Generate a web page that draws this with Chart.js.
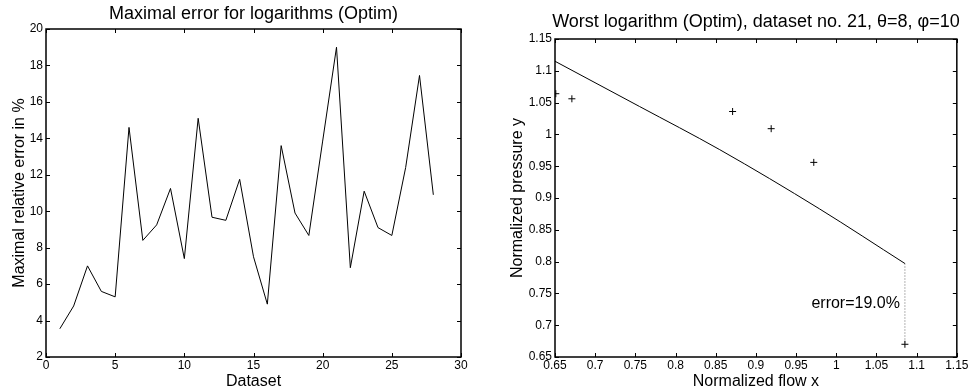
<!DOCTYPE html>
<html>
<head>
<meta charset="utf-8">
<script src="https://cdn.jsdelivr.net/npm/chart.js@4.4.1/dist/chart.umd.min.js"></script>
<style>
  body { margin: 0; background: #fff; }
  #left, #right { position: absolute; top: 0; width: 485px; height: 392px; }
  #left { left: 0; }
  #right { left: 485px; }
</style>
</head>
<body>
<canvas id="left" width="485" height="392"></canvas>
<canvas id="right" width="485" height="392"></canvas>
<script>
// max relative error per dataset
const datasetNo = [1, 2, 3, 4, 5, 6, 7, 8, 9, 10, 11, 12, 13, 14, 15, 16, 17, 18, 19, 20, 21, 22, 23, 24, 25, 26, 27, 28]
const maxError = [3.55, 4.8, 7.0, 5.6, 5.3, 14.6, 8.4, 9.25, 11.25, 7.4, 15.1, 9.67, 9.5, 11.75, 7.5, 4.9,
                  13.6, 9.9, 8.67, 13.85, 19.0, 6.9, 11.1, 9.1, 8.67, 12.4, 17.45, 10.9]
const datasetTicks = [0, 5, 10, 15, 20, 25, 30]
const errorTicks = [2, 4, 6, 8, 10, 12, 14, 16, 18, 20]

// worst case: measured points and fitted logarithm
const flowMeasured = [0.651, 0.671, 0.871, 0.919, 0.972, 1.0854]
const pressureMeasured = [1.064, 1.056, 1.036, 1.009, 0.956, 0.670]
const flowFit = [0.65, 0.755, 0.855, 0.979, 1.0854]
const pressureFit = [1.115, 1.044, 0.976, 0.883, 0.797]
const normTicks = [0.65, 0.7, 0.75, 0.8, 0.85, 0.9, 0.95, 1, 1.05, 1.1, 1.15]

const FONT = 'Liberation Sans, Arial, Helvetica, sans-serif'
Chart.defaults.font.family = FONT
Chart.defaults.color = '#000'

// matlab style box with ticks pointing inwards on all four sides
const boxAxes = {
  id: 'boxAxes',
  afterDraw(chart) {
    const {ctx, chartArea: a, scales: {x, y}} = chart
    ctx.save()
    ctx.strokeStyle = '#000'
    ctx.lineWidth = 1
    ctx.beginPath()
    x.ticks.forEach(t => {
      let px = Math.round(x.getPixelForValue(t.value)) + 0.5
      ctx.moveTo(px, a.bottom); ctx.lineTo(px, a.bottom - 4)
      ctx.moveTo(px, a.top); ctx.lineTo(px, a.top + 4)
    })
    y.ticks.forEach(t => {
      let py = Math.round(y.getPixelForValue(t.value)) + 0.5
      ctx.moveTo(a.left, py); ctx.lineTo(a.left + 4, py)
      ctx.moveTo(a.right, py); ctx.lineTo(a.right - 4, py)
    })
    ctx.stroke()
    ctx.lineWidth = 1.5
    ctx.strokeRect(a.left, a.top, a.right - a.left, a.bottom - a.top)
    ctx.restore()
  }
}

// title centred over the plot box, not the whole canvas
const plotTitle = {
  id: 'plotTitle',
  afterDraw(chart, args, opts) {
    const {ctx, chartArea: a} = chart
    ctx.save()
    ctx.font = '18px ' + FONT
    ctx.fillStyle = '#000'
    ctx.textAlign = 'center'
    ctx.textBaseline = 'alphabetic'
    ctx.fillText(opts.text, (a.left + a.right) / 2, opts.baseline)
    ctx.restore()
  }
}

function axis(min, max, ticks, title, size, pad) {
  return {
    type: 'linear', min: min, max: max,
    grid: {display: false, drawTicks: false},
    border: {display: false},
    afterBuildTicks: s => { s.ticks = ticks.map(v => ({value: v})) },
    ticks: {
      autoSkip: false, maxRotation: 0, padding: 1.5,
      font: {size: 12},
      callback: v => String(+v.toFixed(2))
    },
    title: {display: true, text: title, font: {size: 16}, padding: pad},
    afterFit: s => { if (s.isHorizontal()) s.height = size; else s.width = size }
  }
}

let xLeft = axis(0, 30, datasetTicks, 'Dataset', 35, {top: 0, bottom: 1})
let yLeft = axis(2, 20, errorTicks, 'Maximal relative error in %', 46, {top: 10, bottom: 0})
yLeft.ticks.padding = 3

new Chart(document.getElementById('left'), {
  type: 'line',
  data: {
    datasets: [{
      data: datasetNo.map((d, i) => ({x: d, y: maxError[i]})),
      borderColor: '#000', borderWidth: 1, pointRadius: 0, tension: 0
    }]
  },
  options: {
    responsive: false, animation: false,
    layout: {padding: {left: 0, right: 24, top: 29, bottom: 0}},
    scales: {x: xLeft, y: yLeft},
    plugins: {
      legend: {display: false}, tooltip: {enabled: false}, title: {display: false},
      plotTitle: {text: 'Maximal error for logarithms (Optim)', baseline: 19}
    }
  },
  plugins: [boxAxes, plotTitle]
})

// error between fit and measurement at the worst point
let last = flowMeasured.length - 1
let fitEnd = pressureFit[pressureFit.length - 1]
let errPct = (fitEnd - pressureMeasured[last]) / pressureMeasured[last] * 100

const errorLabel = {
  id: 'errorLabel',
  afterDatasetsDraw(chart) {
    const {ctx, scales: {x, y}} = chart
    let px = x.getPixelForValue(flowMeasured[last]) - 5
    let py = y.getPixelForValue((fitEnd + pressureMeasured[last]) / 2)
    ctx.save()
    ctx.font = '16px ' + FONT
    ctx.fillStyle = '#000'
    ctx.textAlign = 'right'
    ctx.textBaseline = 'middle'
    ctx.fillText('error=' + errPct.toFixed(1) + '%', px, py)
    ctx.restore()
  }
}

let xRight = axis(0.65, 1.15, normTicks, 'Normalized flow x', 35, {top: 0, bottom: 1})
let yRight = axis(0.65, 1.15, normTicks, 'Normalized pressure y', 70, {top: 23.4, bottom: 0})
yRight.ticks.padding = 3

new Chart(document.getElementById('right'), {
  type: 'scatter',
  data: {
    datasets: [{
      data: flowMeasured.map((f, i) => ({x: f, y: pressureMeasured[i]})),
      pointStyle: 'cross', pointRadius: 3.5, borderColor: '#000', borderWidth: 1, showLine: false
    }, {
      data: flowFit.map((f, i) => ({x: f, y: pressureFit[i]})),
      borderColor: '#000', borderWidth: 1, pointRadius: 0, showLine: true,
      cubicInterpolationMode: 'monotone'
    }, {
      data: [{x: flowMeasured[last], y: fitEnd}, {x: flowMeasured[last], y: pressureMeasured[last]}],
      borderColor: '#666', borderWidth: 1, borderDash: [1, 2], pointRadius: 0, showLine: true
    }]
  },
  options: {
    responsive: false, animation: false,
    layout: {padding: {left: 0, right: 12, top: 39, bottom: 0}},
    scales: {x: xRight, y: yRight},
    plugins: {
      legend: {display: false}, tooltip: {enabled: false}, title: {display: false},
      plotTitle: {text: 'Worst logarithm (Optim), dataset no. 21, θ=8, φ=10', baseline: 27.3}
    }
  },
  plugins: [boxAxes, plotTitle, errorLabel]
})
</script>
</body>
</html>
